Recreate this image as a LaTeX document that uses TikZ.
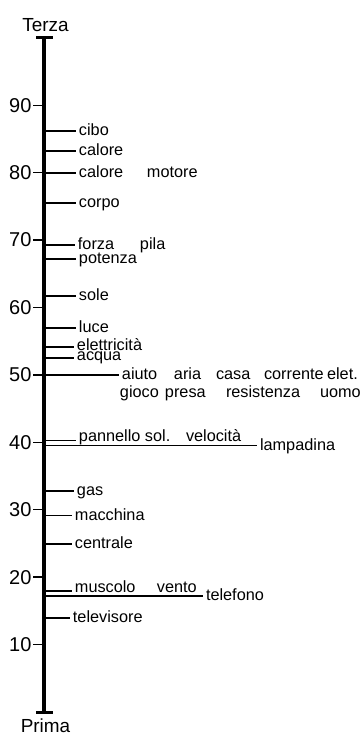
\documentclass[tikz,border=0pt]{standalone}
\usepackage{fontspec}
\setmainfont{Liberation Sans}

\begin{document}
\begin{tikzpicture}[x=0.75pt, y=5.055pt,
    axis/.style={line width=3pt},
    endbar/.style={line width=2.25pt},
    tickmark/.style={line width=1pt},
    entry/.style={line width=1.5pt},
    thin entry/.style={line width=0.85pt},
    lbl/.style={anchor=west, inner sep=2pt, text height=1.5ex, text depth=0.25ex,
      font=\fontsize{12.2}{14}\selectfont},
    num/.style={anchor=east, inner sep=1pt, font=\fontsize{15}{17}\selectfont},
    ends/.style={inner sep=0pt, font=\fontsize{14.2}{16}\selectfont}
    ]
    \useasboundingbox (-44,-3.41) rectangle (317,105.6);

    % scale
    \coordinate (bot) at (0,0);
    \coordinate (top) at (0,100);
    \draw[axis] (bot) -- (top);
    \draw[endbar] (-8,0) -- (9,0);
    \draw[endbar] (-8,100) -- (9,100);
    \node[ends] (terza) at (1.5,101.9) {Terza};
    \node[ends] (prima) at (1.5,-2.0) {Prima};
    \foreach \v in {10,20,...,90} {
      \coordinate (t\v) at (0,\v);
      \node[num] (n\v) at (-11,\v) {\v};
      \draw[tickmark] (n\v.east) -- (t\v);
    }

    % words
    \coordinate (acibo) at (0,86.2);
    \node[lbl] (cibo) at (32,86.2) {cibo};
    \draw[entry] (acibo) -- (cibo.west);

    \coordinate (acalore) at (0,83.2);
    \node[lbl] (calore) at (32,83.2) {calore};
    \draw[entry] (acalore) -- (calore.west);

    \coordinate (acalore2) at (0,80);
    \node[lbl] (calore2) at (32,80) {calore};
    \node[lbl] (motore) at (100,80) {motore};
    \draw[entry] (acalore2) -- (calore2.west);

    \coordinate (acorpo) at (0,75.5);
    \node[lbl] (corpo) at (32,75.5) {corpo};
    \draw[entry] (acorpo) -- (corpo.west);

    \coordinate (aforza) at (0,69.3);
    \node[lbl] (forza) at (31,69.3) {forza};
    \node[lbl] (pila) at (93,69.3) {pila};
    \draw[entry] (aforza) -- (forza.west);

    \coordinate (apotenza) at (0,67.2);
    \node[lbl] (potenza) at (32,67.2) {potenza};
    \draw[entry] (apotenza) -- (potenza.west);

    \coordinate (asole) at (0,61.7);
    \node[lbl] (sole) at (32,61.7) {sole};
    \draw[entry] (asole) -- (sole.west);

    \coordinate (aluce) at (0,57);
    \node[lbl] (luce) at (32,57) {luce};
    \draw[entry] (aluce) -- (luce.west);

    \coordinate (aelettricita) at (0,54.2);
    \node[lbl] (elettricita) at (30,54.2) {elettricità};
    \draw[entry] (aelettricita) -- (elettricita.west);

    \coordinate (aacqua) at (0,52.5);
    \node[lbl, yshift=1.6pt] (acqua) at (30,52.5) {acqua};
    \draw[thin entry] (aacqua) -- (aacqua -| acqua.west);

    \coordinate (aaiuto) at (0,50);
    \node[lbl] (aiuto) at (75,50) {aiuto};
    \node[lbl] (aria) at (127,50) {aria};
    \node[lbl] (casa) at (169,50) {casa};
    \node[lbl] (corrente) at (217,50) {corrente};
    \node[lbl] (elet) at (280,50) {elet.};
    \node[lbl] (gioco) at (73,47.3) {gioco};
    \node[lbl] (presa) at (118,47.3) {presa};
    \node[lbl] (resistenza) at (179,47.3) {resistenza};
    \node[lbl] (uomo) at (273,47.3) {uomo};
    \draw[entry] (aaiuto) -- (aiuto.west);

    \coordinate (apannello) at (0,40.25);
    \node[lbl, yshift=2.5pt] (pannello) at (32,40.25) {pannello sol.};
    \node[lbl, yshift=2.5pt] (velocita) at (139,40.25) {velocità};
    \draw[thin entry] (apannello) -- (apannello -| pannello.west);

    \coordinate (alampadina) at (0,39.5);
    \node[lbl] (lampadina) at (213,39.5) {lampadina};
    \draw[thin entry] (alampadina) -- (lampadina.west);

    \coordinate (agas) at (0,32.8);
    \node[lbl] (gas) at (30,32.8) {gas};
    \draw[entry] (agas) -- (gas.west);

    \coordinate (amacchina) at (0,29.1);
    \node[lbl] (macchina) at (28,29.1) {macchina};
    \draw[thin entry] (amacchina) -- (macchina.west);

    \coordinate (acentrale) at (0,24.9);
    \node[lbl] (centrale) at (28,24.9) {centrale};
    \draw[entry] (acentrale) -- (centrale.west);

    \coordinate (amuscolo) at (0,18);
    \node[lbl, yshift=2.2pt] (muscolo) at (28,18) {muscolo};
    \node[lbl, yshift=2.2pt] (vento) at (110,18) {vento};
    \draw[entry] (amuscolo) -- (amuscolo -| muscolo.west);

    \coordinate (atelefono) at (0,17.2);
    \node[lbl] (telefono) at (159,17.2) {telefono};
    \draw[thin entry] (atelefono) -- (telefono.west);

    \coordinate (atelevisore) at (0,14);
    \node[lbl] (televisore) at (26,14) {televisore};
    \draw[entry] (atelevisore) -- (televisore.west);
  \end{tikzpicture}
\end{document}
